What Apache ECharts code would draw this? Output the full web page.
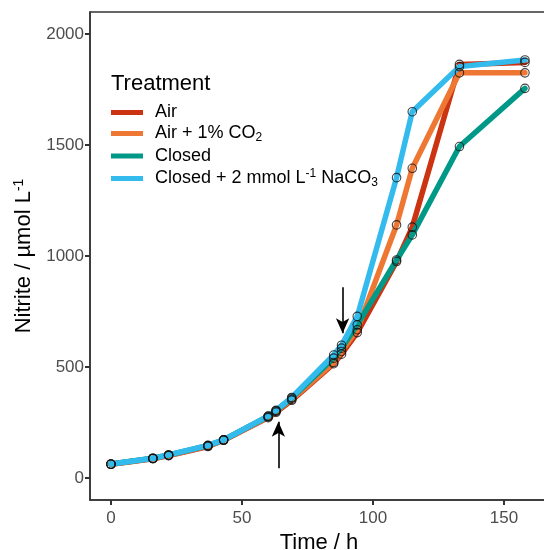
<!DOCTYPE html>
<html>
<head>
<meta charset="utf-8">
<script src="https://cdn.jsdelivr.net/npm/echarts@6/dist/echarts.min.js"></script>
<style>html,body{margin:0;padding:0;background:#fff;}#c{width:544px;height:550px;}</style>
</head>
<body>
<div id="c"></div>
<script>
// ---- data ----
const timeH = [0, 16, 22, 37, 43, 60, 63, 69, 85, 88, 94, 109, 115, 133, 158];
const seriesNames = ['Air', 'Air + 1% CO2', 'Closed', 'Closed + 2 mmol L-1 NaCO3'];
const airVals      = [62, 87, 101, 142, 170, 272, 296, 350, 515, 558, 655, 975, 1130, 1863, 1872];
const airCO2Vals   = [62, 88, 102, 144, 171, 275, 300, 354, 520, 570, 668, 1140, 1395, 1825, 1825];
const closedVals   = [63, 89, 104, 146, 172, 278, 303, 360, 540, 585, 690, 982, 1095, 1493, 1755];
const closedNaVals = [63, 89, 104, 147, 172, 279, 305, 363, 554, 598, 728, 1353, 1650, 1853, 1883];
const xTicks = [0, 50, 100, 150];
const yTicks = [0, 500, 1000, 1500, 2000];
const arrowDown = [[88.4, 859], [88.4, 652]];
const arrowUp   = [[63.9, 44], [63.9, 254]];
// ---- style ----
const colors = ['#CC3311', '#EE7733', '#009988', '#33BBEE'];
const allVals = [airVals, airCO2Vals, closedVals, closedNaVals];
const FONT = '"Liberation Sans", Arial, sans-serif';

const chart = echarts.init(document.getElementById('c'), null, {renderer: 'canvas'});

const lineSeries = seriesNames.map((n, i) => ({
  name: n, type: 'line', showSymbol: false, symbol: 'none',
  data: timeH.map((t, k) => [t, allVals[i][k]]),
  lineStyle: {color: colors[i], width: 5.5, cap: 'round', join: 'round'},
  itemStyle: {color: colors[i]},
  z: 2, animation: false
}));
const pointSeries = seriesNames.map((n, i) => ({
  name: n + ' pts', type: 'scatter', symbol: 'circle', symbolSize: 8.5,
  data: timeH.map((t, k) => [t, allVals[i][k]]),
  itemStyle: {color: 'rgba(0,0,0,0)', borderColor: '#111', borderWidth: 1.1},
  z: 5, animation: false, silent: true
}));
pointSeries[3].markLine = {
  silent: true, animation: false,
  symbol: ['none', 'arrow'], symbolSize: [10, 15],
  label: {show: false},
  lineStyle: {color: '#000', width: 1.6, type: 'solid'},
  data: [
    [{coord: arrowDown[0]}, {coord: arrowDown[1]}],
    [{coord: arrowUp[0]}, {coord: arrowUp[1]}]
  ]
};

const legendRich = {
  a: {fontSize: 18, fontFamily: FONT, color: '#000', lineHeight: 21, padding: [0, 0, 0, 7]},
  b: {fontSize: 18, fontFamily: FONT, color: '#000', lineHeight: 21},
  sub: {fontSize: 12, fontFamily: FONT, color: '#000', lineHeight: 12, verticalAlign: 'bottom'},
  sup: {fontSize: 12, fontFamily: FONT, color: '#000', lineHeight: 12, verticalAlign: 'top'}
};
const legendFmt = {
  'Air': '{a|Air}',
  'Air + 1% CO2': '{a|Air + 1% CO}{sub|2}',
  'Closed': '{a|Closed}',
  'Closed + 2 mmol L-1 NaCO3': '{a|Closed + 2 mmol L}{sup|-1}{b| NaCO}{sub|3}'
};

chart.setOption({
  backgroundColor: '#fff',
  animation: false,
  textStyle: {fontFamily: FONT},
  grid: {left: 90, right: -4, top: 12, bottom: 50, show: true, borderColor: '#333', borderWidth: 1.5,
    containLabel: false, outerBoundsMode: 'none'},
  title: {text: 'Treatment', left: 111, top: 73, padding: 0,
    textStyle: {fontSize: 22, fontWeight: 'normal', color: '#000', fontFamily: FONT}},
  legend: {
    orient: 'vertical', left: 111, top: 103.5, padding: 0, itemGap: 3,
    itemWidth: 32, itemHeight: 5, icon: 'rect',
    data: seriesNames.map((n, i) => ({name: n, icon: 'rect', itemStyle: {color: colors[i], borderWidth: 0}})),
    formatter: n => legendFmt[n],
    textStyle: {rich: legendRich, fontSize: 18, color: '#000'},
    selectedMode: false
  },
  xAxis: {
    type: 'value', min: -8, max: 166.8,
    name: 'Time / h', nameLocation: 'middle', nameGap: 28,
    nameTextStyle: {fontSize: 22, color: '#000', fontFamily: FONT},
    axisLine: {show: true, onZero: false, lineStyle: {color: '#333', width: 1.5}},
    axisTick: {show: true, length: 5, lineStyle: {color: '#333', width: 2}, customValues: xTicks},
    axisLabel: {fontSize: 17, color: '#4d4d4d', margin: 10, customValues: xTicks, fontFamily: FONT,
      formatter: v => String(v)},
    splitLine: {show: false}
  },
  yAxis: {
    type: 'value', min: -99, max: 2099,
    name: '{a|Nitrite / µmol L}{s|-1}', nameLocation: 'middle', nameGap: 53, nameRotate: 90,
    nameTextStyle: {fontSize: 22, color: '#000', fontFamily: FONT,
      rich: {a: {fontSize: 22, color: '#000', fontFamily: FONT, lineHeight: 25},
             s: {fontSize: 14, color: '#000', fontFamily: FONT, lineHeight: 14, verticalAlign: 'top'}}},
    axisLine: {show: true, onZero: false, lineStyle: {color: '#333', width: 1.5}},
    axisTick: {show: true, length: 5, lineStyle: {color: '#333', width: 2}, customValues: yTicks},
    axisLabel: {fontSize: 17, color: '#4d4d4d', margin: 6, customValues: yTicks, fontFamily: FONT,
      formatter: v => String(v)},
    splitLine: {show: false}
  },
  series: lineSeries.concat(pointSeries)
});
</script>
</body>
</html>
